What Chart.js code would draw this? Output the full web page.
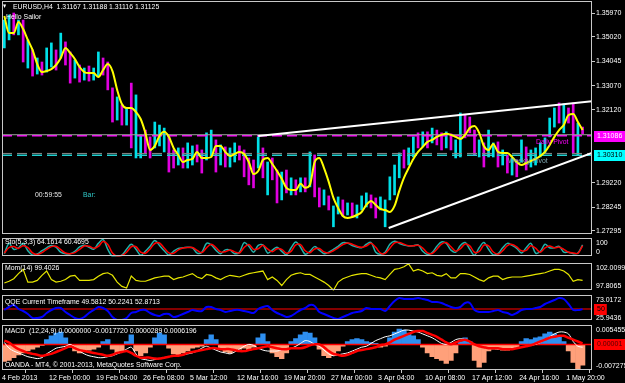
<!DOCTYPE html>
<html><head><meta charset="utf-8">
<script src="https://cdn.jsdelivr.net/npm/chart.js@4"></script>
<style>
html,body{margin:0;padding:0;background:#000;width:625px;height:383px;overflow:hidden;}
#wrap{position:relative;width:625px;height:383px;overflow:hidden;background:#000;}
canvas{position:absolute;left:0;}
.t{position:absolute;font:8px "Liberation Sans",Arial,sans-serif;color:#fff;white-space:pre;transform:scaleX(0.86);transform-origin:0 50%;line-height:10px;}
</style></head><body><div id="wrap">
<canvas id="cMain" width="625" height="253" style="top:-9px"></canvas>
<canvas id="cSto" width="625" height="43" style="top:226px"></canvas>
<canvas id="cMom" width="625" height="52" style="top:251px"></canvas>
<canvas id="cQqe" width="625" height="45" style="top:285px"></canvas>
<canvas id="cMacd" width="625" height="70" style="top:313px"></canvas>
<div class="t" style="left:2px;top:1px;font-size:6px">▼</div>
<div class="t" style="left:13px;top:2px">EURUSD,H4  1.31167 1.31188 1.31116 1.31125</div>
<div class="t" style="left:6px;top:12px">Hello Sailor</div>
<div class="t" style="left:35px;top:190px;color:#e8e8e8">00:59:55</div>
<div class="t" style="left:83px;top:190px;color:#30c8c8">Bar:</div>
<div class="t" style="left:536px;top:137px;color:#ff00ff">Daily Pivot</div>
<div class="t" style="left:508px;top:156px;color:#7fa8b0">Weekly Pivot</div>
<div class="t" style="left:5px;top:237px">Sto(5,3,3) 64.1614 60.4695</div>
<div class="t" style="left:5px;top:263px">Mom(14) 99.4026</div>
<div class="t" style="left:5px;top:297px">QQE Current Timeframe 49.5812 50.2241 52.8713</div>
<div class="t" style="left:5px;top:326px">MACD  (12,24,9) 0.0000000 -0.0017720 0.0000289 0.0006196</div>
<div class="t" style="left:5px;top:360px">OANDA - MT4, © 2001-2013, MetaQuotes Software Corp.</div>
</div>
<script>
// ---------- data ----------
const dateLabels = ['4 Feb 2013','12 Feb 00:00','19 Feb 04:00','26 Feb 08:00','5 Mar 12:00','12 Mar 16:00','19 Mar 20:00','27 Mar 00:00','3 Apr 04:00','10 Apr 08:00','17 Apr 12:00','24 Apr 16:00','1 May 20:00'];
const dateTickPos = [-0.5,9.5,19.5,29.5,39.5,49.5,59.5,69.5,79.5,89.5,99.5,109.5,119.5];
const priceTicks = [1.35970,1.35020,1.34045,1.33070,1.32120,1.29220,1.28245,1.27295];

const barHigh = [1.3569,1.3589,1.3597,1.3569,1.3569,1.3490,1.3450,1.3418,1.3402,1.3458,
1.3478,1.3450,1.3517,1.3482,1.3442,1.3410,1.3390,1.3378,1.3386,1.3378,
1.3442,1.3418,1.3402,1.3299,1.3263,1.3231,1.3219,1.3318,1.3271,1.3112,
1.3131,1.3104,1.3163,1.3151,1.3139,1.3112,1.3052,1.3060,1.3060,1.3080,
1.3068,1.3072,1.3052,1.3120,1.3131,1.3092,1.3072,1.3064,1.3060,1.3080,
1.3068,1.3052,1.3020,1.3012,1.3104,1.3060,1.3004,1.3020,1.2972,1.2964,
1.2972,1.2941,1.2933,1.2941,1.2941,1.3044,1.3032,1.2901,1.2893,1.2869,
1.2829,1.2865,1.2853,1.2841,1.2841,1.2833,1.2869,1.2881,1.2873,1.2861,
1.2865,1.2853,1.2945,1.2992,1.3040,1.3052,1.3060,1.3104,1.3120,1.3124,
1.3124,1.3139,1.3131,1.3120,1.3124,1.3116,1.3092,1.3199,1.3191,1.3183,
1.3131,1.3092,1.3080,1.3131,1.3080,1.3084,1.3052,1.3032,1.3020,1.3012,
1.3092,1.3064,1.3052,1.3060,1.3080,1.3100,1.3179,1.3219,1.3239,1.3235,
1.3219,1.3239,1.3159,1.3143];
const barLow = [1.3458,1.3490,1.3510,1.3510,1.3402,1.3378,1.3346,1.3354,1.3350,1.3362,
1.3382,1.3370,1.3418,1.3390,1.3318,1.3338,1.3322,1.3330,1.3326,1.3330,
1.3346,1.3350,1.3291,1.3163,1.3171,1.3151,1.3151,1.3060,1.3020,1.3020,
1.3040,1.3020,1.3060,1.3068,1.3044,1.2964,1.2980,1.2992,1.2980,1.2980,
1.2992,1.3004,1.2960,1.3012,1.3028,1.2964,1.2992,1.2984,1.2984,1.3004,
1.3012,1.2945,1.2913,1.2901,1.2980,1.2941,1.2873,1.2933,1.2841,1.2853,
1.2881,1.2873,1.2873,1.2885,1.2885,1.2905,1.2865,1.2825,1.2833,1.2813,
1.2746,1.2797,1.2789,1.2793,1.2785,1.2781,1.2813,1.2825,1.2821,1.2781,
1.2813,1.2746,1.2853,1.2873,1.2941,1.2980,1.2992,1.3024,1.3060,1.3064,
1.3060,1.3080,1.3072,1.3052,1.3060,1.3052,1.3020,1.3024,1.3100,1.3120,
1.3032,1.3024,1.2984,1.3024,1.3024,1.2984,1.2992,1.2960,1.2952,1.2945,
1.3004,1.2972,1.2984,1.2992,1.3024,1.3040,1.3104,1.3143,1.3159,1.3120,
1.3159,1.3040,1.3032,1.3116];
const barDir = ("uududududu"+"ududdududu"+"udddududuu"+"dduuuddudu"+"udduududuu"+"ddddududdu"+
"dudududdud"+"uududuuudd"+"uuuuuduudu"+"dudduduudd"+"duduududud"+"uduuuuuudu"+"ddud").split('');
const maLine = [1.3585,1.3517,1.3517,1.3561,1.3533,1.3490,1.3450,1.3394,1.3362,1.3366,
1.3374,1.3390,1.3418,1.3458,1.3438,1.3414,1.3382,1.3362,1.3358,1.3358,
1.3342,1.3370,1.3394,1.3366,1.3291,1.3235,1.3219,1.3219,1.3203,1.3175,
1.3120,1.3052,1.3068,1.3108,1.3124,1.3104,1.3060,1.3032,1.3004,1.3012,
1.3016,1.3044,1.3020,1.3020,1.3024,1.3068,1.3068,1.3044,1.3028,1.3036,
1.3044,1.3036,1.3004,1.2956,1.2968,1.3012,1.3020,1.2996,1.2968,1.2937,
1.2901,1.2893,1.2893,1.2917,1.2901,1.2913,1.3004,1.3020,1.2980,1.2925,
1.2861,1.2821,1.2789,1.2781,1.2785,1.2793,1.2805,1.2833,1.2849,1.2833,
1.2817,1.2813,1.2805,1.2829,1.2889,1.2941,1.2980,1.3016,1.3044,1.3064,
1.3084,1.3092,1.3104,1.3112,1.3116,1.3112,1.3104,1.3096,1.3112,1.3139,
1.3147,1.3120,1.3068,1.3052,1.3076,1.3044,1.3040,1.3040,1.3024,1.3004,
1.2992,1.3000,1.3008,1.3016,1.3028,1.3044,1.3072,1.3104,1.3131,1.3151,
1.3191,1.3195,1.3163,1.3131];
const trendUpper = [[54.0,1.31075],[125,1.32456]];
const trendLower = [[81.75,1.27413],[125,1.30402]];
const dailyPivot = 1.31086;
const weeklyPivot = 1.30310;
const weeklyShadow = 1.30380;
const bidPrice = 1.31125;

const stoMain = [16.1,72.6,40.3,48.4,72.6,32.3,8.1,14.5,32.3,48.4,
61.3,51.6,24.2,16.1,16.1,29.0,53.2,62.9,51.6,40.3,
72.6,93.5,40.3,0,3.2,8.1,40.3,67.7,40.3,8.1,
29.0,56.5,88.7,61.3,32.3,8.1,29.0,45.2,48.4,51.6,
48.4,19.4,24.2,72.6,64.5,35.5,16.1,37.1,35.5,16.1,
24.2,77.4,56.5,24.2,61.3,64.5,19.4,35.5,51.6,29.0,
9.7,48.4,80.6,51.6,12.9,29.0,54.8,35.5,16.1,24.2,
40.3,56.5,75.8,74.2,61.3,53.2,48.4,67.7,77.4,24.2,
12.9,24.2,67.7,83.9,72.6,62.9,58.1,59.7,64.5,29.0,
11.3,22.6,56.5,80.6,72.6,35.5,24.2,61.3,77.4,40.3,
8.1,48.4,77.4,40.3,9.7,16.1,48.4,72.6,61.3,45.2,
19.4,48.4,72.6,19.4,29.0,67.7,48.4,48.4,56.5,24.2,
24.2,16.1,20.0,64.16];
const stoSignal = [20,50,55,45,60,50,20,12,22,40,
55,57,38,20,16,22,40,58,57,46,
56,83,67,20,2,6,24,54,54,24,
18,42,72,75,47,20,18,37,47,50,
50,34,22,48,68,50,26,27,36,26,
20,50,67,40,43,63,42,27,43,40,
19,29,64,66,32,21,42,45,26,20,
32,48,66,75,68,57,51,58,73,51,
19,18,46,76,78,68,60,59,62,47,
20,17,40,69,77,54,30,43,69,59,
24,28,63,59,25,13,32,60,67,53,
32,34,60,46,24,48,58,48,52,40,
24,20,18,60.47];
const momLine = [98.99,99.25,99.65,100.43,101.09,99.12,99.12,99.38,100.17,100.83,
99.51,99.12,99.25,99.51,100.04,100.17,99.38,99.38,99.38,99.51,
100.04,100.43,100.56,100.17,99.12,98.46,98.20,100.04,99.38,99.25,
99.25,99.51,99.78,99.91,100.04,100.04,99.51,99.78,99.91,100.17,
100.43,99.91,99.65,100.30,100.17,99.78,99.51,99.91,100.17,100.04,
99.91,100.17,100.43,100.56,100.70,100.83,99.51,99.91,99.38,98.59,
99.51,100.17,100.43,100.56,100.30,100.30,99.91,99.51,99.12,98.59,
97.87,99.12,99.65,99.91,100.17,100.30,100.43,100.43,100.17,99.91,
99.78,99.51,100.30,101.09,101.22,101.48,101.94,100.83,101.09,100.83,
100.43,100.56,100.17,100.04,100.43,99.78,99.78,100.43,100.43,100.30,
99.91,99.51,99.25,99.78,100.04,100.04,99.51,99.78,99.91,99.91,
99.91,100.04,100.17,100.30,100.43,100.56,100.83,101.09,101.09,100.83,
100.30,99.25,99.51,99.40];
const qqeLine = [47.30,55.01,60.16,49.87,44.72,37.01,26.72,26.72,29.29,39.58,
47.30,52.44,52.44,42.15,34.44,26.72,24.15,29.29,39.58,47.30,
55.01,52.44,44.72,29.29,21.58,21.58,26.72,39.58,42.15,47.30,
47.30,39.58,34.44,31.87,37.01,37.01,29.29,31.87,37.01,42.15,
47.30,44.72,44.72,55.01,55.01,49.87,47.30,42.15,44.72,47.30,
47.30,44.72,42.15,39.58,49.87,55.01,57.58,47.30,39.58,34.44,
29.29,31.87,39.58,47.30,52.44,60.16,57.58,42.15,37.01,31.87,
26.72,24.15,29.29,34.44,39.58,42.15,44.72,52.44,49.87,49.87,
49.87,44.72,57.58,70.45,78.16,75.59,75.59,75.59,78.16,75.59,
73.02,67.87,67.87,65.30,60.16,55.01,52.44,55.01,65.30,65.30,
47.30,42.15,42.15,42.15,44.72,47.30,42.15,39.58,34.44,39.58,
47.30,49.87,49.87,52.44,55.01,62.73,67.87,73.02,78.16,75.59,
62.73,47.30,47.30,49.58];
const qqeLevel = 50;
const macdHist = [-0.00484,-0.00456,-0.00375,-0.00294,-0.00240,-0.00186,-0.00132,-0.00077,-0.00023,0.00139,
0.00248,0.00329,0.00356,0.00193,-0.00077,-0.00186,-0.00240,-0.00186,-0.00159,-0.00132,
-0.00077,0.00085,0.00139,-0.00132,-0.00240,-0.00186,0.00085,0.00275,-0.00186,-0.00321,
-0.00240,-0.00077,0.00193,0.00329,0.00275,-0.00105,-0.00267,-0.00321,-0.00240,-0.00186,
-0.00105,-0.00077,-0.00050,0.00139,0.00275,0.00139,-0.00132,-0.00213,-0.00240,-0.00186,
-0.00132,-0.00105,-0.00159,-0.00077,0.00193,0.00302,0.00085,-0.00240,-0.00348,-0.00402,
-0.00240,0.00085,0.00166,0.00275,0.00356,0.00329,0.00193,-0.00132,-0.00321,-0.00375,
-0.00321,-0.00186,-0.00050,0.00085,0.00139,0.00166,0.00139,0.00085,0.00058,0.00031,
-0.00077,-0.00050,0.00193,0.00356,0.00437,0.00410,0.00329,0.00248,0.00139,-0.00077,
-0.00240,-0.00348,-0.00402,-0.00456,-0.00538,-0.00456,-0.00240,0.00085,0.00193,0.00085,
-0.00456,-0.00646,-0.00511,-0.00186,-0.00132,-0.00132,-0.00159,-0.00159,-0.00132,-0.00105,
0.00085,0.00166,0.00139,0.00193,0.00220,0.00302,0.00356,0.00302,0.00220,0.00085,
-0.00186,-0.00511,-0.00700,-0.00592];
const macdMain = [0.00058,-0.00105,-0.00186,-0.00240,-0.00294,-0.00348,-0.00375,-0.00402,-0.00375,-0.00267,
-0.00186,-0.00105,-0.00077,-0.00050,0.00004,-0.00077,-0.00186,-0.00267,-0.00321,-0.00348,
-0.00375,-0.00375,-0.00348,-0.00321,-0.00267,-0.00213,-0.00132,-0.00077,-0.00267,-0.00402,
-0.00429,-0.00456,-0.00429,-0.00402,-0.00375,-0.00348,-0.00321,-0.00321,-0.00294,-0.00267,
-0.00240,-0.00186,-0.00105,-0.00050,-0.00105,-0.00159,-0.00213,-0.00240,-0.00267,-0.00213,
-0.00132,-0.00050,0.00004,-0.00023,-0.00105,-0.00159,-0.00186,-0.00186,-0.00186,-0.00159,
-0.00132,-0.00105,-0.00050,0.00031,0.00112,0.00085,0.00004,-0.00050,-0.00159,-0.00267,
-0.00321,-0.00294,-0.00267,-0.00240,-0.00186,-0.00132,-0.00077,-0.00050,0.00031,0.00112,
0.00166,0.00220,0.00248,0.00302,0.00356,0.00410,0.00410,0.00383,0.00356,0.00302,
0.00248,0.00193,0.00112,0.00031,0.00004,0.00058,0.00139,0.00166,0.00139,0.00085,
0.00004,-0.00050,-0.00077,-0.00105,-0.00105,-0.00132,-0.00132,-0.00132,-0.00105,-0.00105,
-0.00077,-0.00050,-0.00023,0.00004,0.00058,0.00139,0.00220,0.00302,0.00356,0.00356,
0.00302,0.00085,-0.00050,-0.00077];
const macdSignal = [0.00112,0.00058,-0.00050,-0.00132,-0.00186,-0.00240,-0.00267,-0.00294,-0.00321,-0.00294,
-0.00267,-0.00213,-0.00159,-0.00105,-0.00050,-0.00105,-0.00159,-0.00186,-0.00213,-0.00240,
-0.00267,-0.00294,-0.00321,-0.00294,-0.00240,-0.00213,-0.00186,-0.00240,-0.00321,-0.00375,
-0.00375,-0.00375,-0.00402,-0.00402,-0.00375,-0.00348,-0.00321,-0.00321,-0.00294,-0.00240,
-0.00213,-0.00186,-0.00159,-0.00132,-0.00105,-0.00105,-0.00132,-0.00132,-0.00132,-0.00159,
-0.00186,-0.00186,-0.00159,-0.00132,-0.00105,-0.00077,-0.00050,-0.00077,-0.00105,-0.00132,
-0.00132,-0.00105,-0.00105,-0.00105,-0.00077,-0.00023,0.00004,0.00004,-0.00077,-0.00186,
-0.00267,-0.00294,-0.00321,-0.00294,-0.00240,-0.00186,-0.00159,-0.00132,-0.00105,-0.00077,
-0.00023,0.00004,0.00058,0.00139,0.00193,0.00248,0.00302,0.00356,0.00383,0.00383,
0.00329,0.00275,0.00220,0.00139,0.00058,0.00004,0.00058,0.00112,0.00139,0.00085,
0.00004,-0.00050,-0.00077,-0.00105,-0.00105,-0.00105,-0.00132,-0.00132,-0.00132,-0.00105,
-0.00077,-0.00050,-0.00023,0.00031,0.00085,0.00139,0.00193,0.00220,0.00248,0.00248,
0.00193,0.00139,0.00085,0.00031];
const macdZero = 0;

// ---------- helpers ----------
const X_MIN = -0.5, X_MAX = 125;
const FONT = 'Liberation Sans';
const pts = arr => arr.map((v, i) => ({x: i, y: v}));
const hline = v => [{x: X_MIN, y: v}, {x: X_MAX, y: v}];

const frame = {id: 'frame', afterDraw(c) {
  const a = c.chartArea, g = c.ctx;
  g.save(); g.strokeStyle = '#c8c8c8'; g.lineWidth = 1;
  g.strokeRect(Math.round(a.left) + 0.5, Math.round(a.top) + 0.5, Math.round(a.right - a.left) - 1, Math.round(a.bottom - a.top) - 1);
  g.restore();
}};
function tagPlugin(items) {
  return {id: 'tags', afterDraw(c) {
    const g = c.ctx; g.save();
    items.forEach(t => {
      const y = Math.round(c.scales.y.getPixelForValue(t.value));
      const x0 = Math.round(c.chartArea.right) + 2;
      g.font = '7px "' + FONT + '"';
      const w = t.full ? c.width - x0 : g.measureText(t.text).width + 5;
      g.fillStyle = t.bg; g.fillRect(x0, y - 5, w, 11);
      g.fillStyle = t.fg; g.textBaseline = 'middle'; g.textAlign = 'left';
      g.fillText(t.text, x0 + 3, y + 0.5);
    });
    g.restore();
  }};
}
function xAxis(show) {
  const ax = {type: 'linear', min: X_MIN, max: X_MAX, offset: false, display: show,
    afterBuildTicks: a => { a.ticks = dateTickPos.map(v => ({value: v})); },
    ticks: {color: '#fff', font: {size: 7, family: FONT}, align: 'start', padding: 1, maxRotation: 0, autoSkip: false,
      callback: (v, i) => dateLabels[i]},
    grid: {display: true, drawOnChartArea: false, drawTicks: true, tickLength: 3, color: '#c8c8c8'},
    border: {display: false}};
  if (show) ax.afterFit = s => { s.height = 13; };
  return ax;
}
// labels drawn inset from the panel edges (MT4 style) at the window min / max
function subY(min, max, topLab, botLab) {
  return {position: 'right', min: min, max: max, beginAtZero: false,
    afterBuildTicks: a => { a.ticks = [{value: min}, {value: max}]; },
    ticks: {color: '#fff', font: {size: 7, family: FONT, lineHeight: 1.2}, padding: 4,
      callback: (v, i) => i === 1 ? ['', topLab] : [botLab, '']},
    grid: {drawOnChartArea: false, drawTicks: false}, border: {display: false},
    afterFit: s => { s.width = 33; }};
}
// labels at their own values inside a wider range
function valY(min, max, tickVals, fmt) {
  return {position: 'right', min: min, max: max, beginAtZero: false,
    afterBuildTicks: a => { a.ticks = tickVals.map(v => ({value: v})); },
    ticks: {color: '#fff', font: {size: 7, family: FONT}, padding: 4, callback: v => fmt(v)},
    grid: {drawOnChartArea: false, drawTicks: false}, border: {display: false},
    afterFit: s => { s.width = 33; }};
}
function baseOpts(scales, padBottom) {
  return {responsive: false, animation: false, devicePixelRatio: 1, events: [],
    layout: {padding: {left: 2, right: 0, top: 10, bottom: padBottom}},
    plugins: {legend: {display: false}, tooltip: {enabled: false}},
    scales: scales};
}

// ---------- main price panel ----------
new Chart(document.getElementById('cMain'), {
  type: 'bar',
  data: {datasets: [
    {type: 'line', data: pts(maLine), borderColor: '#ffff00', borderWidth: 2, pointRadius: 0, cubicInterpolationMode: 'monotone', order: 0},
    {type: 'line', data: trendUpper.map(p => ({x: p[0], y: p[1]})), borderColor: '#ffffff', borderWidth: 2, pointRadius: 0, order: 1},
    {type: 'line', data: trendLower.map(p => ({x: p[0], y: p[1]})), borderColor: '#ffffff', borderWidth: 2, pointRadius: 0, order: 1},
    {type: 'line', data: hline(bidPrice), borderColor: '#a0a0a0', borderWidth: 1, pointRadius: 0, order: 2},
    {type: 'line', data: hline(dailyPivot), borderColor: '#ff00ff', borderWidth: 1.5, borderDash: [10, 5], pointRadius: 0, order: 2},
    {type: 'line', data: hline(weeklyShadow), borderColor: '#8a8a8a', borderWidth: 1, borderDash: [10, 5], pointRadius: 0, order: 2},
    {type: 'line', data: hline(weeklyPivot), borderColor: '#20d0d0', borderWidth: 1.5, borderDash: [10, 5], pointRadius: 0, order: 2},
    {type: 'bar', data: barHigh.map((h, i) => ({x: i, y: [barLow[i], h]})),
      backgroundColor: barDir.map(d => d === 'u' ? '#00e0e8' : '#e000e0'), borderWidth: 0, barThickness: 2, order: 3}
  ]},
  options: baseOpts({
    x: xAxis(false),
    y: {position: 'right', min: 1.27174, max: 1.36448, beginAtZero: false,
      afterBuildTicks: a => { a.ticks = priceTicks.map(v => ({value: v})); },
      ticks: {color: '#fff', font: {size: 7, family: FONT}, padding: 1, callback: v => v.toFixed(5)},
      grid: {drawOnChartArea: false, drawTicks: true, tickLength: 3, color: '#c8c8c8'},
      border: {display: false}, afterFit: s => { s.width = 33; }}
  }, 10),
  plugins: [frame, tagPlugin([
    {value: dailyPivot, text: '1.31086', bg: '#ff00ff', fg: '#ffffff', full: true},
    {value: weeklyPivot, text: '1.30310', bg: '#00ffff', fg: '#000000', full: true}])]
});

// ---------- Stochastic ----------
new Chart(document.getElementById('cSto'), {
  type: 'line',
  data: {datasets: [
    {data: pts(stoSignal), borderColor: '#ff0000', borderWidth: 1.5, pointRadius: 0, tension: 0.35, order: 0},
    {data: pts(stoMain), borderColor: '#20b2aa', borderWidth: 1.5, pointRadius: 0, tension: 0.35, order: 1}
  ]},
  options: baseOpts({x: xAxis(false), y: subY(0, 100, '100', '0')}, 10),
  plugins: [frame]
});

// ---------- Momentum ----------
new Chart(document.getElementById('cMom'), {
  type: 'line',
  data: {datasets: [
    {data: pts(momLine), borderColor: '#e6e600', borderWidth: 1.2, pointRadius: 0, tension: 0}
  ]},
  options: baseOpts({x: xAxis(false), y: subY(97.8065, 102.0099, '102.0099', '97.8065')}, 10),
  plugins: [frame]
});

// ---------- QQE ----------
const qqeTicks = [25.9436, 73.0172];
new Chart(document.getElementById('cQqe'), {
  type: 'line',
  data: {datasets: [
    {data: pts(qqeLine), borderColor: '#0000ff', borderWidth: 2, pointRadius: 0, tension: 0.3, order: 0},
    {data: hline(qqeLevel), borderColor: '#b00000', borderWidth: 1.5, pointRadius: 0, order: 1}
  ]},
  options: baseOpts({x: xAxis(false), y: valY(21.58, 85.88, qqeTicks, v => v.toFixed(4))}, 10),
  plugins: [frame, tagPlugin([{value: qqeLevel, text: '50', bg: '#ff0000', fg: '#000000'}])]
});

// ---------- MACD ----------
new Chart(document.getElementById('cMacd'), {
  type: 'bar',
  data: {datasets: [
    {type: 'line', data: pts(macdSignal), borderColor: '#ff0000', borderWidth: 2.5, pointRadius: 0, tension: 0.3, order: 0},
    {type: 'line', data: pts(macdMain), borderColor: '#ffffff', borderWidth: 1, pointRadius: 0, tension: 0.3, order: 1},
    {type: 'line', data: hline(macdZero), borderColor: '#ff0000', borderWidth: 1.5, pointRadius: 0, order: 2},
    {type: 'bar', data: pts(macdHist), backgroundColor: macdHist.map(v => v >= 0 ? '#2e8ff0' : '#ffa07a'),
      borderWidth: 0, barPercentage: 1, categoryPercentage: 1, order: 3}
  ]},
  options: baseOpts({x: xAxis(true), y: subY(-0.007275, 0.005455, '0.005455', '-0.007275')}, 0),
  plugins: [frame, tagPlugin([{value: 0.00001, text: '0.00001', bg: '#ff0000', fg: '#500000', full: true}])]
});
</script>
</body></html>
